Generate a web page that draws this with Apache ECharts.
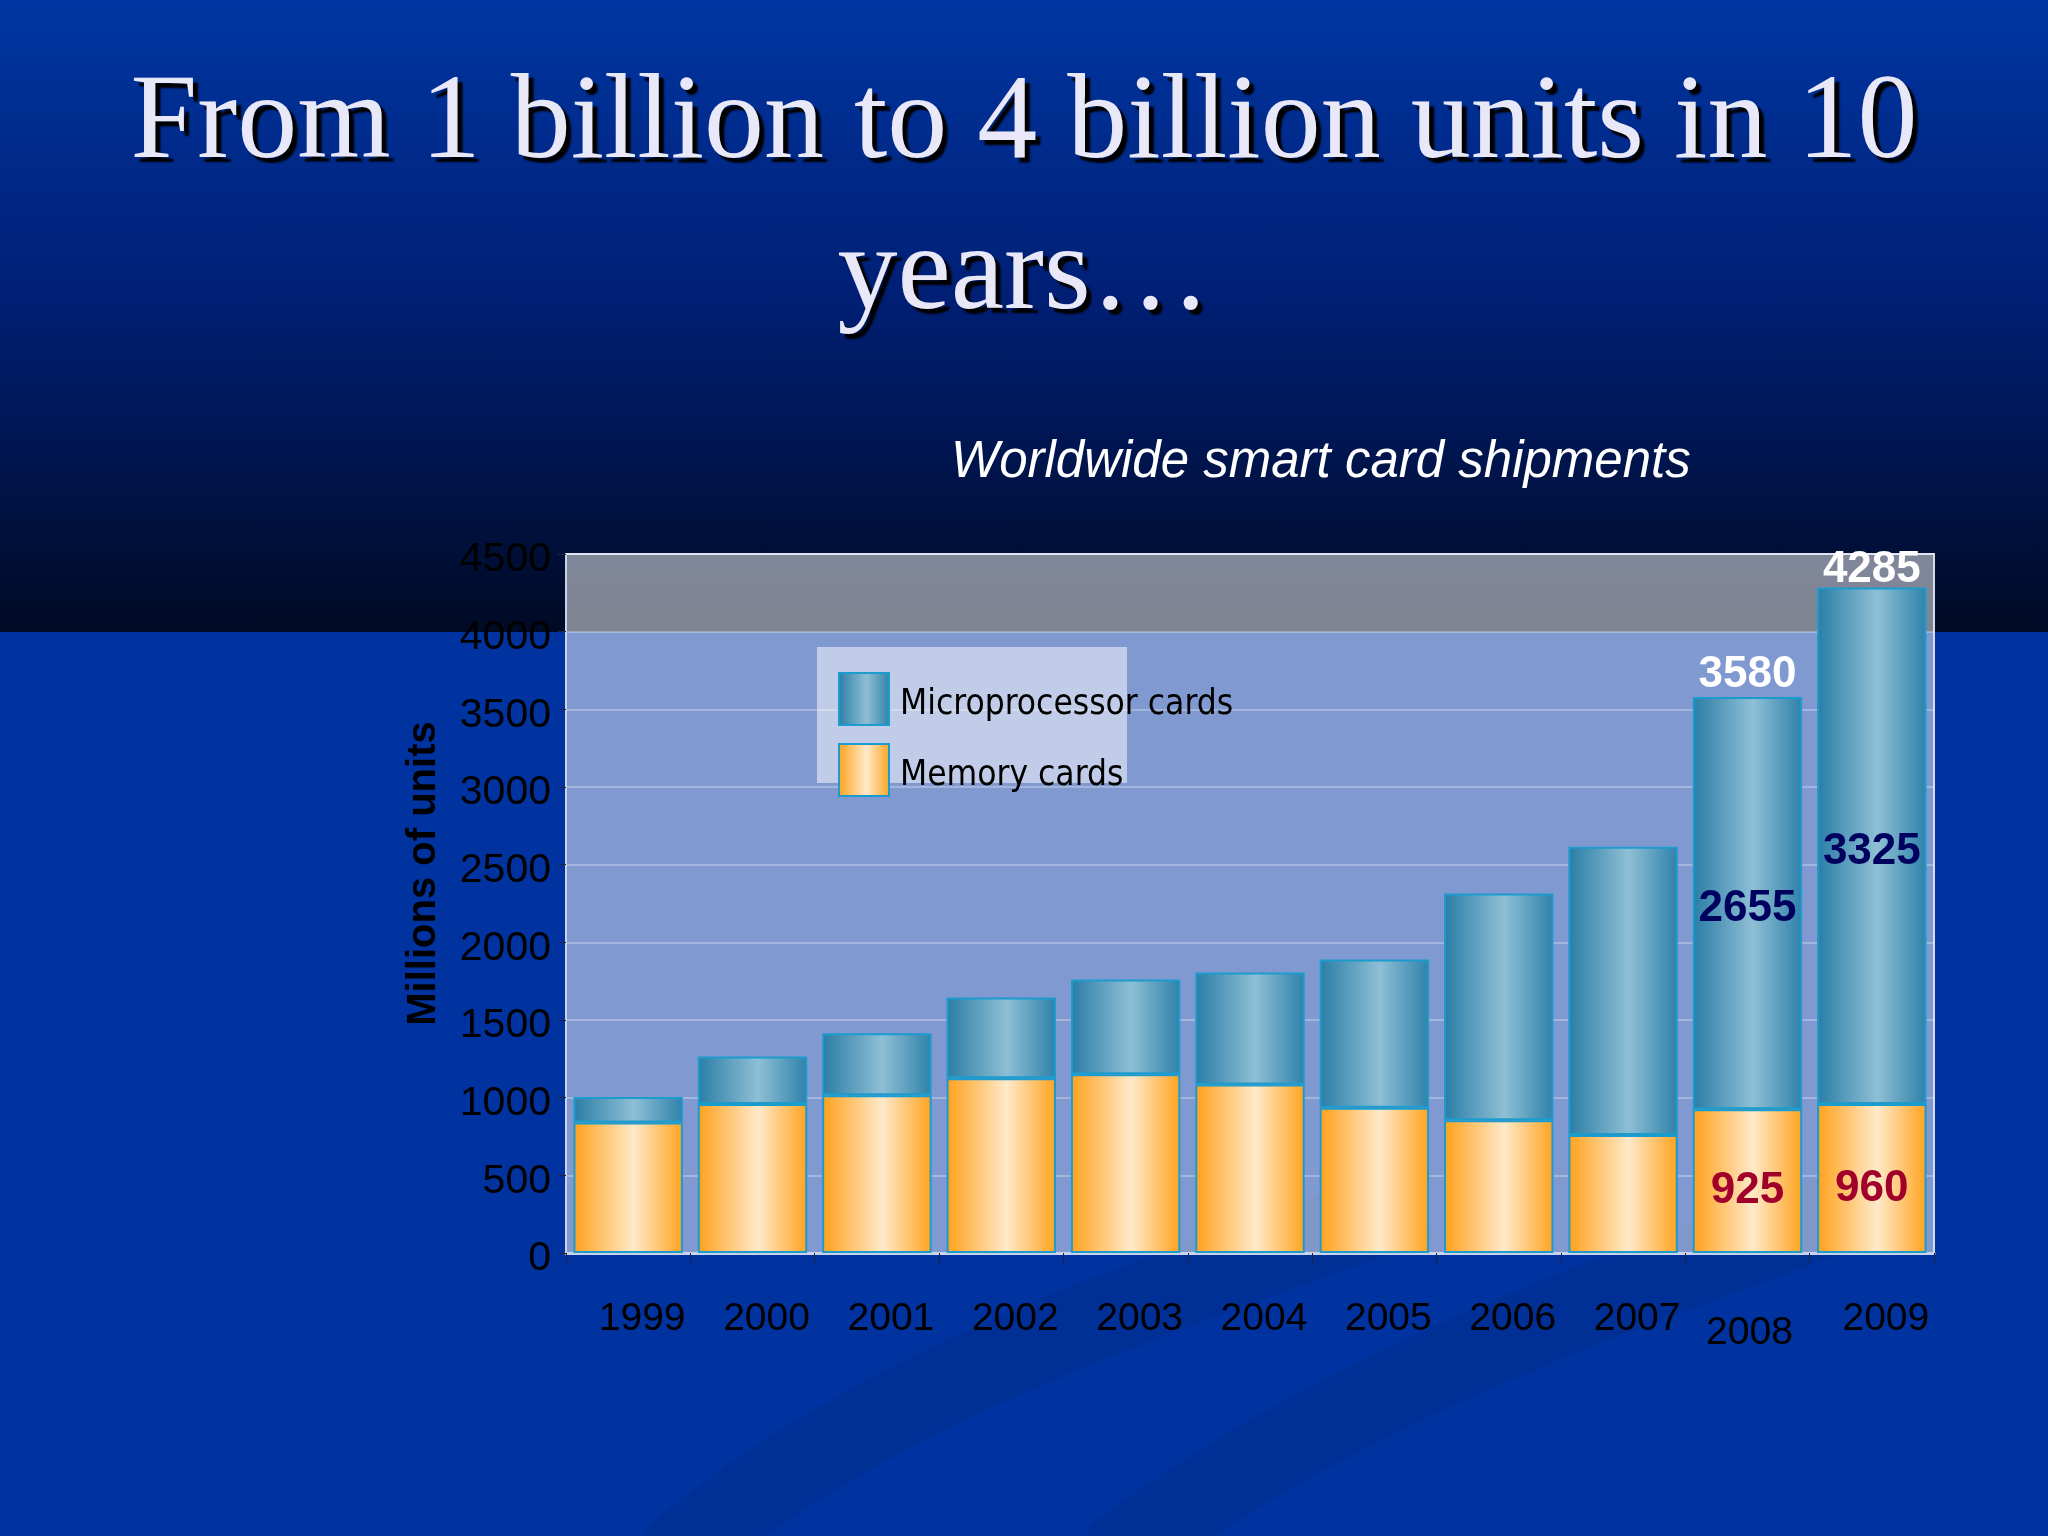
<!DOCTYPE html>
<html>
<head>
<meta charset="utf-8">
<title>Worldwide smart card shipments</title>
<script src="https://cdn.jsdelivr.net/npm/echarts@6/dist/echarts.min.js"></script>
<style>
    html, body {
        margin: 0;
        padding: 0;
        width: 2048px;
        height: 1536px;
        overflow: hidden;
        background: linear-gradient(to bottom, #0036a2 0px, #001f74 300px, #000a24 632px, #0033a0 632px, #0033a0 1536px);
    }
    #container {
        width: 2048px;
        height: 1536px;
    }
</style>
</head>
<body>
<div id="container"></div>
<script>
// 数据部分
var years = ['1999', '2000', '2001', '2002', '2003', '2004', '2005', '2006', '2007', '2008', '2009'];
var memoryCards = [840, 960, 1015, 1125, 1150, 1085, 935, 855, 760, 925, 960];
var microCards = [165, 305, 400, 520, 610, 720, 955, 1460, 1855, 2655, 3325];
var labelledYears = ['2008', '2009'];
var yTicks = {min: 0, max: 4500, step: 500};

var totals = memoryCards.map(function (v, i) { return v + microCards[i]; });

function withLabels(values) {
    return values.map(function (v, i) {
        return {value: v, label: {show: labelledYears.indexOf(years[i]) >= 0}};
    });
}

var memoryColor = new echarts.graphic.LinearGradient(0, 0, 1, 0, [
    {offset: 0, color: '#ffa11a'},
    {offset: 0.55, color: '#ffe9c9'},
    {offset: 1, color: '#ffa31e'}
]);
var microColor = new echarts.graphic.LinearGradient(0, 0, 1, 0, [
    {offset: 0, color: '#2a7da6'},
    {offset: 0.55, color: '#8ebfd5'},
    {offset: 1, color: '#2e81aa'}
]);

var gridTop = 554;

var myChart = echarts.init(document.getElementById('container'));
var option = {
    title: [{
        text: 'From 1 billion to 4 billion units in 10\nyears…',
        left: 'center',
        top: 50,
        padding: 0,
        textStyle: {
            fontFamily: 'Liberation Serif',
            fontWeight: 'normal',
            fontSize: 120,
            lineHeight: 151,
            color: '#e8e8f8',
            textShadowColor: '#000',
            textShadowOffsetX: 5,
            textShadowOffsetY: 5,
            textShadowBlur: 2
        }
    }, {
        text: 'Worldwide smart card shipments',
        left: 951,
        top: 438,
        padding: 0,
        textStyle: {
            fontFamily: 'Liberation Sans',
            fontStyle: 'italic',
            fontWeight: 'normal',
            fontSize: 51,
            lineHeight: 50,
            color: '#ffffff'
        }
    }],
    graphic: [
        {
            type: 'bezierCurve',
            z: -10,
            shape: {x1: 670, y1: 1560, cpx1: 880, cpy1: 1380, cpx2: 1150, cpy2: 1300, x2: 1420, y2: 1200},
            style: {stroke: 'rgba(0, 25, 95, 0.14)', lineWidth: 80, fill: null}
        },
        {
            type: 'bezierCurve',
            z: -10,
            shape: {x1: 1110, y1: 1560, cpx1: 1350, cpy1: 1380, cpx2: 1600, cpy2: 1300, x2: 1900, y2: 1190},
            style: {stroke: 'rgba(0, 25, 95, 0.14)', lineWidth: 80, fill: null}
        },
        {
            type: 'rect',
            z: 5,
            shape: {x: 817, y: 647, width: 310, height: 136},
            style: {fill: 'rgba(255, 255, 255, 0.5)'}
        }
    ],
    legend: {
        orient: 'vertical',
        left: 838,
        top: 672,
        padding: 0,
        itemWidth: 50,
        itemHeight: 52,
        itemGap: 17,
        icon: 'rect',
        z: 10,
        data: ['Microprocessor cards', 'Memory cards'],
        formatter: '{t|{name}}',
        textStyle: {
            color: '#000',
            rich: {
                t: {
                    fontFamily: '"DejaVu Sans Condensed", "Liberation Sans", sans-serif',
                    fontSize: 35,
                    color: '#000',
                    padding: [12, 0, 0, 6]
                }
            }
        }
    },
    grid: {
        left: 566,
        right: 114,
        top: gridTop,
        bottom: 283,
        show: true,
        backgroundColor: 'rgba(255, 255, 255, 0.5)',
        borderColor: '#d4dcee',
        borderWidth: 2
    },
    xAxis: {
        type: 'category',
        data: years,
        axisLine: {lineStyle: {color: '#c8d2ea', width: 3}},
        axisTick: {show: true, length: 10, lineStyle: {color: '#1a2440', width: 1}},
        axisLabel: {
            interval: 0,
            margin: 47,
            fontFamily: 'Liberation Sans',
            fontSize: 39,
            color: '#000',
            formatter: function (v) {
                return v === '2008' ? '{b|' + v + '}' : '{a|' + v + '}';
            },
            rich: {
                a: {fontFamily: 'Liberation Sans', fontSize: 39, color: '#000', padding: [0, 0, 0, 28]},
                b: {fontFamily: 'Liberation Sans', fontSize: 39, color: '#000', padding: [14, 0, 0, 4]}
            }
        }
    },
    yAxis: {
        type: 'value',
        min: yTicks.min,
        max: yTicks.max,
        interval: yTicks.step,
        name: 'Millions of units',
        nameLocation: 'middle',
        nameGap: 122,
        nameTextStyle: {
            fontFamily: 'Liberation Sans',
            fontWeight: 'bold',
            fontSize: 40,
            color: '#000',
            padding: [0, 0, 0, 60]
        },
        axisLine: {show: true, lineStyle: {color: '#c8d2ea', width: 2}},
        axisTick: {show: true, length: 8, lineStyle: {color: '#1a2440', width: 1}},
        axisLabel: {
            margin: 15,
            fontFamily: 'Liberation Sans',
            fontSize: 41,
            color: '#000',
            formatter: function (v) { return '{n|' + v + '}'; },
            rich: {
                n: {fontFamily: 'Liberation Sans', fontSize: 41, color: '#000', padding: [12, 0, 0, 0]}
            }
        },
        splitLine: {lineStyle: {color: 'rgba(255, 255, 255, 0.28)', width: 2}}
    },
    series: [{
        name: 'Memory cards',
        type: 'bar',
        stack: 'cards',
        barCategoryGap: '12%',
        itemStyle: {color: memoryColor, borderColor: '#1c9ccd', borderWidth: 2},
        label: {
            position: 'inside',
            offset: [0, 10],
            fontFamily: 'Liberation Sans',
            fontWeight: 'bold',
            fontSize: 44,
            color: '#a0002a'
        },
        data: withLabels(memoryCards)
    }, {
        name: 'Microprocessor cards',
        type: 'bar',
        stack: 'cards',
        barCategoryGap: '12%',
        itemStyle: {color: microColor, borderColor: '#1c9ccd', borderWidth: 2},
        label: {
            position: 'inside',
            offset: [0, 6],
            fontFamily: 'Liberation Sans',
            fontWeight: 'bold',
            fontSize: 44,
            color: '#00005e'
        },
        data: withLabels(microCards)
    }, {
        name: 'total',
        type: 'scatter',
        symbolSize: 1,
        itemStyle: {color: 'rgba(0,0,0,0)', opacity: 1},
        silent: true,
        z: 20,
        label: {
            position: 'top',
            distance: 0,
            fontFamily: 'Liberation Sans',
            fontWeight: 'bold',
            fontSize: 44,
            color: '#ffffff'
        },
        // keep total labels inside the plot area, like the original chart
        labelLayout: function (params) {
            var r = params.labelRect;
            var limit = gridTop - 6;
            return r.y < limit ? {dy: limit - r.y} : {};
        },
        data: withLabels(totals)
    }]
};
myChart.setOption(option);
</script>
</body>
</html>
